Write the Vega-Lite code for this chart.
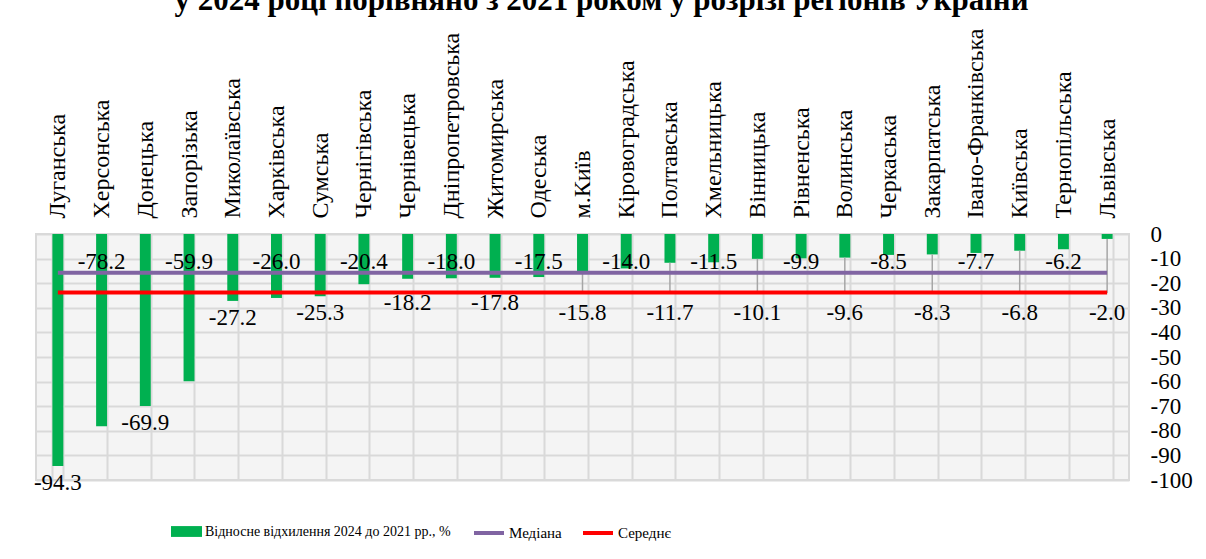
{
  "$schema": "https://vega.github.io/schema/vega-lite/v6.json",
  "width": 1093,
  "height": 246,
  "autosize": {"type": "none"},
  "padding": {"left": 36, "top": 234, "right": 77, "bottom": 79},
  "background": "white",
  "title": {
    "text": "у 2024 році порівняно з 2021 роком у розрізі регіонів України",
    "font": "Liberation Serif",
    "fontSize": 31,
    "fontWeight": "bold",
    "color": "black",
    "anchor": "middle",
    "dx": 19,
    "offset": 11
  },
  "config": {
    "view": {"fill": "#f4f4f4", "stroke": "#d9d9d9", "strokeWidth": 2},
    "font": "Liberation Serif",
    "locale": {"number": {"decimal": ".", "thousands": ",", "grouping": [3], "currency": ["", ""], "minus": "-"}},
    "axis": {"labelOverlap": false},
    "axisY": {"labelOverlap": false, "tickCount": 11}
  },
  "data": {
    "values": [
      {"region": "Луганська", "value": -94.3},
      {"region": "Херсонська", "value": -78.2},
      {"region": "Донецька", "value": -69.9},
      {"region": "Запорізька", "value": -59.9},
      {"region": "Миколаївська", "value": -27.2},
      {"region": "Харківська", "value": -26.0},
      {"region": "Сумська", "value": -25.3},
      {"region": "Чернігівська", "value": -20.4},
      {"region": "Чернівецька", "value": -18.2},
      {"region": "Дніпропетровська", "value": -18.0},
      {"region": "Житомирська", "value": -17.8},
      {"region": "Одеська", "value": -17.5},
      {"region": "м.Київ", "value": -15.8},
      {"region": "Кіровоградська", "value": -14.0},
      {"region": "Полтавська", "value": -11.7},
      {"region": "Хмельницька", "value": -11.5},
      {"region": "Вінницька", "value": -10.1},
      {"region": "Рівненська", "value": -9.9},
      {"region": "Волинська", "value": -9.6},
      {"region": "Черкаська", "value": -8.5},
      {"region": "Закарпатська", "value": -8.3},
      {"region": "Івано-Франківська", "value": -7.7},
      {"region": "Київська", "value": -6.8},
      {"region": "Тернопільська", "value": -6.2},
      {"region": "Львівська", "value": -2.0}
    ]
  },
  "transform": [
    {"window": [{"op": "row_number", "as": "idx"}]},
    {"joinaggregate": [
      {"op": "median", "field": "value", "as": "Медіана"},
      {"op": "mean", "field": "value", "as": "Середнє"}
    ]},
    {"calculate": "datum.idx % 2 == 0 ? -11.5 : (datum.value > -16.5 ? -32 : min(datum.value - 7, -28))", "as": "labelY"},
    {"calculate": "replace(format(datum.value, '.1f'), '\u2212', '-')", "as": "labelText"}
  ],
  "encoding": {
    "x": {
      "field": "region",
      "type": "nominal",
      "sort": null,
      "scale": {"paddingInner": 0.75, "paddingOuter": 0.375},
      "axis": {
        "orient": "top",
        "title": null,
        "labelAngle": -90,
        "labelAlign": "left",
        "labelBaseline": "middle",
        "labelFont": "Liberation Serif",
        "labelFontSize": 24,
        "labelColor": "black",
        "labelPadding": 16,
        "labelLimit": 400,
        "labelOverlap": false,
        "ticks": false,
        "domain": false,
        "grid": true,
        "gridColor": "#d9d9d9",
        "gridWidth": 2,
        "tickBand": "extent"
      }
    }
  },
  "layer": [
    {
      "mark": {"type": "bar"},
      "encoding": {
        "y": {
          "field": "value",
          "type": "quantitative",
          "scale": {"domain": [-100, 0], "nice": false},
          "axis": {
            "orient": "right",
            "title": null,
            "tickCount": 11,
            "values": [0, -10, -20, -30, -40, -50, -60, -70, -80, -90, -100],
            "format": "d",
            "labelOverlap": false,
            "labelAlign": "left",
            "labelPadding": 21,
            "labelFont": "Liberation Serif",
            "labelFontSize": 23,
            "labelColor": "black",
            "ticks": false,
            "domain": false,
            "grid": true,
            "gridColor": "#d9d9d9",
            "gridWidth": 2
          }
        },
        "fill": {
          "datum": "Відносне відхилення 2024 до 2021 рр., %",
          "type": "nominal",
          "scale": {"range": ["#00b050"]},
          "legend": {
            "orient": "none",
            "legendX": 135,
            "legendY": 282,
            "title": null,
            "symbolType": "M-1,-0.35L1,-0.35L1,0.35L-1,0.35Z",
            "symbolSize": 961,
            "symbolStrokeWidth": 0,
            "labelFont": "Liberation Serif",
            "labelFontSize": 14,
            "labelColor": "black",
            "labelOffset": 3,
            "labelLimit": 500
          }
        }
      }
    },
    {
      "transform": [{"filter": "datum.idx % 2 == 1 && datum.value > -16.5"}],
      "mark": {"type": "rule", "color": "#a6a6a6", "strokeWidth": 1.5},
      "encoding": {
        "y": {"field": "value", "type": "quantitative"},
        "y2": {"datum": -24}
      }
    },
    {
      "transform": [{"fold": ["Медіана", "Середнє"], "as": ["series", "lineValue"]}],
      "mark": {"type": "line", "strokeWidth": 4},
      "encoding": {
        "y": {"field": "lineValue", "type": "quantitative"},
        "stroke": {
          "field": "series",
          "type": "nominal",
          "scale": {"domain": ["Медіана", "Середнє"], "range": ["#8064a2", "#ff0000"]},
          "legend": {
            "orient": "none",
            "legendX": 436,
            "legendY": 282,
            "direction": "horizontal",
            "title": null,
            "symbolType": "stroke",
            "symbolSize": 900,
            "symbolStrokeWidth": 4,
            "columnPadding": 13,
            "labelFont": "Liberation Serif",
            "labelFontSize": 15,
            "labelColor": "black",
            "labelOffset": 3
          }
        }
      }
    },
    {
      "mark": {"type": "text", "fontSize": 23, "font": "Liberation Serif", "color": "black", "baseline": "middle"},
      "encoding": {
        "y": {"field": "labelY", "type": "quantitative"},
        "text": {"field": "labelText", "type": "nominal"}
      }
    }
  ]
}
